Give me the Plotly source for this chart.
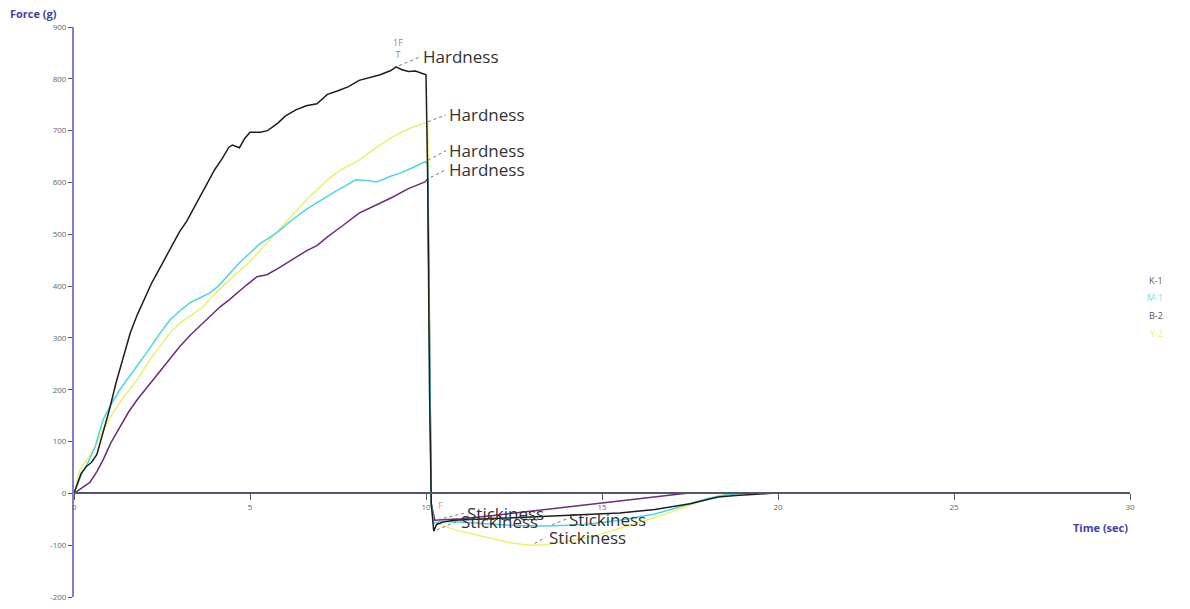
import plotly.graph_objects as go

# ---- data ----
k1_t = [0, 0.1, 0.2, 0.35, 0.5, 0.65, 0.8, 1.0, 1.2, 1.4, 1.6, 1.8, 2.0, 2.2, 2.4, 2.6, 2.8, 3.0, 3.2, 3.4, 3.6, 3.8, 4.0, 4.2, 4.4, 4.5, 4.7, 4.85, 5.0, 5.3, 5.5, 5.8, 6.0, 6.3, 6.6, 6.9, 7.2, 7.5, 7.8, 8.1, 8.4, 8.7, 9.0, 9.15, 9.3, 9.5, 9.7, 9.9, 10.0, 10.05, 10.1, 10.15, 10.22, 10.3, 10.5, 10.8, 11.5, 12.5, 13.5, 14.5, 15.5, 16.5, 17.0, 17.5, 18.0, 18.3, 18.8, 19.3, 19.8, 30]
k1_f = [0, 20, 38, 52, 60, 75, 110, 160, 215, 265, 310, 345, 375, 405, 430, 455, 480, 505, 525, 550, 575, 600, 625, 645, 668, 672, 667, 685, 697, 697, 700, 715, 728, 740, 748, 752, 770, 777, 785, 797, 803, 808, 816, 823, 818, 814, 815, 810, 808, 600, 200, -20, -73, -60, -55, -52, -50, -48, -45, -42, -38, -31, -26, -20, -12, -7, -4, -2, 0, 0]

m1_t = [0, 0.2, 0.4, 0.6, 0.83, 1.0, 1.3, 1.6, 1.8, 2.1, 2.4, 2.73, 3.0, 3.3, 3.6, 3.86, 4.1, 4.43, 4.7, 5.0, 5.28, 5.5, 5.8, 6.2, 6.6, 7.0, 7.4, 7.7, 8.0, 8.3, 8.6, 9.0, 9.26, 9.6, 9.97, 10.05, 10.1, 10.15, 10.22, 10.4, 10.8, 11.5, 12.5, 13.5, 14.5, 15.5, 16.5, 17.0, 17.5, 18.0, 18.5, 19.0, 30]
m1_f = [0, 35, 60, 90, 143, 165, 200, 228, 245, 275, 305, 335, 352, 368, 378, 387, 400, 425, 445, 464, 482, 491, 505, 528, 548, 565, 582, 593, 605, 604, 601, 612, 618, 628, 640, 636, 300, -20, -58, -55, -55, -58, -62, -63, -60, -52, -40, -30, -20, -10, -3, 0, 0]

b2_t = [0, 0.17, 0.45, 0.65, 0.83, 1.05, 1.3, 1.55, 1.8, 2.0, 2.25, 2.6, 3.0, 3.3, 3.67, 3.9, 4.15, 4.4, 4.63, 4.9, 5.2, 5.48, 5.8, 6.2, 6.6, 6.9, 7.2, 7.6, 8.1, 8.6, 9.06, 9.5, 9.97, 10.05, 10.1, 10.15, 10.25, 10.5, 11.0, 12.0, 13.0, 14.0, 14.9, 15.8, 16.6, 17.4, 30]
b2_f = [0, 8, 21, 42, 65, 98, 129, 157, 181, 198, 220, 250, 283, 305, 329, 345, 360, 373, 387, 402, 418, 422, 434, 451, 468, 478, 495, 515, 541, 557, 572, 588, 601, 607, 300, -20, -52, -51, -49, -42, -34, -26, -19, -12, -6, 0, 0]

y2_t = [0, 0.17, 0.4, 0.6, 0.83, 1.1, 1.4, 1.8, 2.2, 2.5, 2.73, 3.0, 3.3, 3.67, 4.0, 4.3, 4.63, 5.0, 5.3, 5.6, 5.9, 6.2, 6.6, 7.0, 7.2, 7.6, 8.1, 8.5, 8.9, 9.3, 9.6, 9.97, 10.05, 10.1, 10.15, 10.22, 10.4, 10.8, 11.3, 11.8, 12.3, 12.7, 13.0, 13.4, 13.8, 14.3, 14.8, 15.3, 15.8, 16.3, 16.8, 17.2, 17.6, 18.0, 18.3, 18.7, 19.0, 30]
y2_f = [0, 46, 68, 90, 123, 155, 185, 220, 262, 290, 310, 328, 343, 360, 385, 405, 425, 448, 470, 492, 515, 538, 566, 592, 605, 625, 643, 663, 682, 697, 706, 715, 712, 350, -20, -50, -60, -70, -78, -86, -94, -98, -100, -99, -95, -89, -82, -72, -62, -51, -40, -30, -20, -11, -5, -1, 0, 0]

series_names = ["K-1", "M-1", "B-2", "Y-2"]
series_colors = ["#1e1e1e", "#4dd6de", "#6b2d7e", "#eeee70"]
legend_colors = ["#5a5a5a", "#7fe0e6", "#6e4a82", "#f0f07a"]

y_ticks = [900, 800, 700, 600, 500, 400, 300, 200, 100, 0, -100, -200]
x_ticks = [0, 5, 10, 15, 20, 25, 30]

series = [(k1_t, k1_f), (m1_t, m1_f), (b2_t, b2_f), (y2_t, y2_f)]

# label offsets (pixels, x right / y down) for Hardness (peak) and Stickiness (minimum)
hard_off = [(24, -10), (21, -11), (18, -9), (21, -8)]
stick_off = [(24, -10), (17, -7), (29, -7), (14, -8)]

fig = go.Figure()
for idx in [3, 2, 1, 0]:
    t, f = series[idx]
    fig.add_trace(go.Scatter(x=t, y=f, mode="lines", name=series_names[idx],
                             line=dict(color=series_colors[idx], width=1.5),
                             showlegend=False))

annotations = []
shapes = []
lab_font = dict(family="Open Sans", size=17, color="#333333")


def add_label(xv, yv, text, off):
    ox, oy = off
    # dotted leader line, positioned in pixels relative to the data point
    shapes.append(dict(type="line", xref="x", yref="y", xsizemode="pixel", ysizemode="pixel",
                       xanchor=xv, yanchor=yv, x0=3, y0=-oy * 3 / max(ox, 1), x1=ox, y1=-oy,
                       line=dict(color="#777777", width=1, dash="dot")))
    annotations.append(dict(x=xv, y=yv, xref="x", yref="y", text=text, showarrow=False,
                            xanchor="left", yanchor="middle", xshift=ox + 1, yshift=-oy,
                            font=lab_font))


for idx, (t, f) in enumerate(series):
    imax = max(range(len(f)), key=lambda i: f[i])
    imin = min(range(len(f)), key=lambda i: f[i])
    add_label(t[imax], f[imax], "Hardness", hard_off[idx])
    add_label(t[imin], f[imin], "Stickiness", stick_off[idx])

# small "1F" markers
imax0 = max(range(len(k1_f)), key=lambda i: k1_f[i])
imin0 = min(range(len(k1_f)), key=lambda i: k1_f[i])
annotations.append(dict(x=k1_t[imax0], y=k1_f[imax0], xref="x", yref="y", text="1F<br>T",
                        showarrow=False, yshift=18, xshift=2, font=dict(size=9, color="#888888")))
annotations.append(dict(x=k1_t[imin0], y=k1_f[imin0], xref="x", yref="y", text="F",
                        showarrow=False, xshift=7, yshift=26, font=dict(size=9, color="#aaaaaa")))

# legend as coloured text
leg_y = [280, 297, 315, 333]
for nm, col, yy in zip(series_names, legend_colors, leg_y):
    annotations.append(dict(x=(1165 - 74) / 1056, y=(597 - yy) / 570, xref="paper", yref="paper",
                            text=nm, showarrow=False, font=dict(family="Open Sans", size=9, color=col)))

# axis titles
annotations.append(dict(x=-66 / 1056, y=(597 - 14) / 570, xref="paper", yref="paper", text="<b>Force (g)</b>",
                        showarrow=False, xanchor="left", yanchor="middle",
                        font=dict(family="Open Sans", size=11, color="#3f3fa8")))
annotations.append(dict(x=1.0, y=(597 - 527) / 570, xref="paper", yref="paper", text="<b>Time (sec)</b>",
                        showarrow=False, xanchor="right", yanchor="middle",
                        font=dict(family="Open Sans", size=11, color="#3f3fa8")))

fig.update_layout(
    width=1190, height=609,
    margin=dict(l=74, r=60, t=27, b=12, autoexpand=False),
    plot_bgcolor="white", paper_bgcolor="white",
    showlegend=False,
    annotations=annotations,
    shapes=shapes,
    xaxis=dict(range=[0, 30], tickvals=x_ticks, ticktext=[str(v) for v in x_ticks],
               anchor="free", position=200 / 1100, showline=True, linecolor="#555566", linewidth=1.5,
               ticks="outside", ticklen=6, tickcolor="#555566", showgrid=False, zeroline=False,
               automargin=False,
               tickfont=dict(family="Open Sans", size=8, color="#666666")),
    yaxis=dict(range=[-200, 900], tickvals=y_ticks, ticktext=[str(v) for v in y_ticks],
               showline=True, linecolor="#8080c8", linewidth=2, ticks="outside", ticklen=4,
               tickcolor="#555555", showgrid=False, zeroline=False, automargin=False,
               tickfont=dict(family="Open Sans", size=8, color="#666666")),
)

fig.write_html("out.html", config={"displayModeBar": False})

# remove default page margin so the figure sits at the window's top-left corner
with open("out.html", "r", encoding="utf-8") as fh:
    html = fh.read()
html = html.replace("<head>", "<head><style>html,body{margin:0;padding:0;overflow:hidden;}</style>", 1)
with open("out.html", "w", encoding="utf-8") as fh:
    fh.write(html)
